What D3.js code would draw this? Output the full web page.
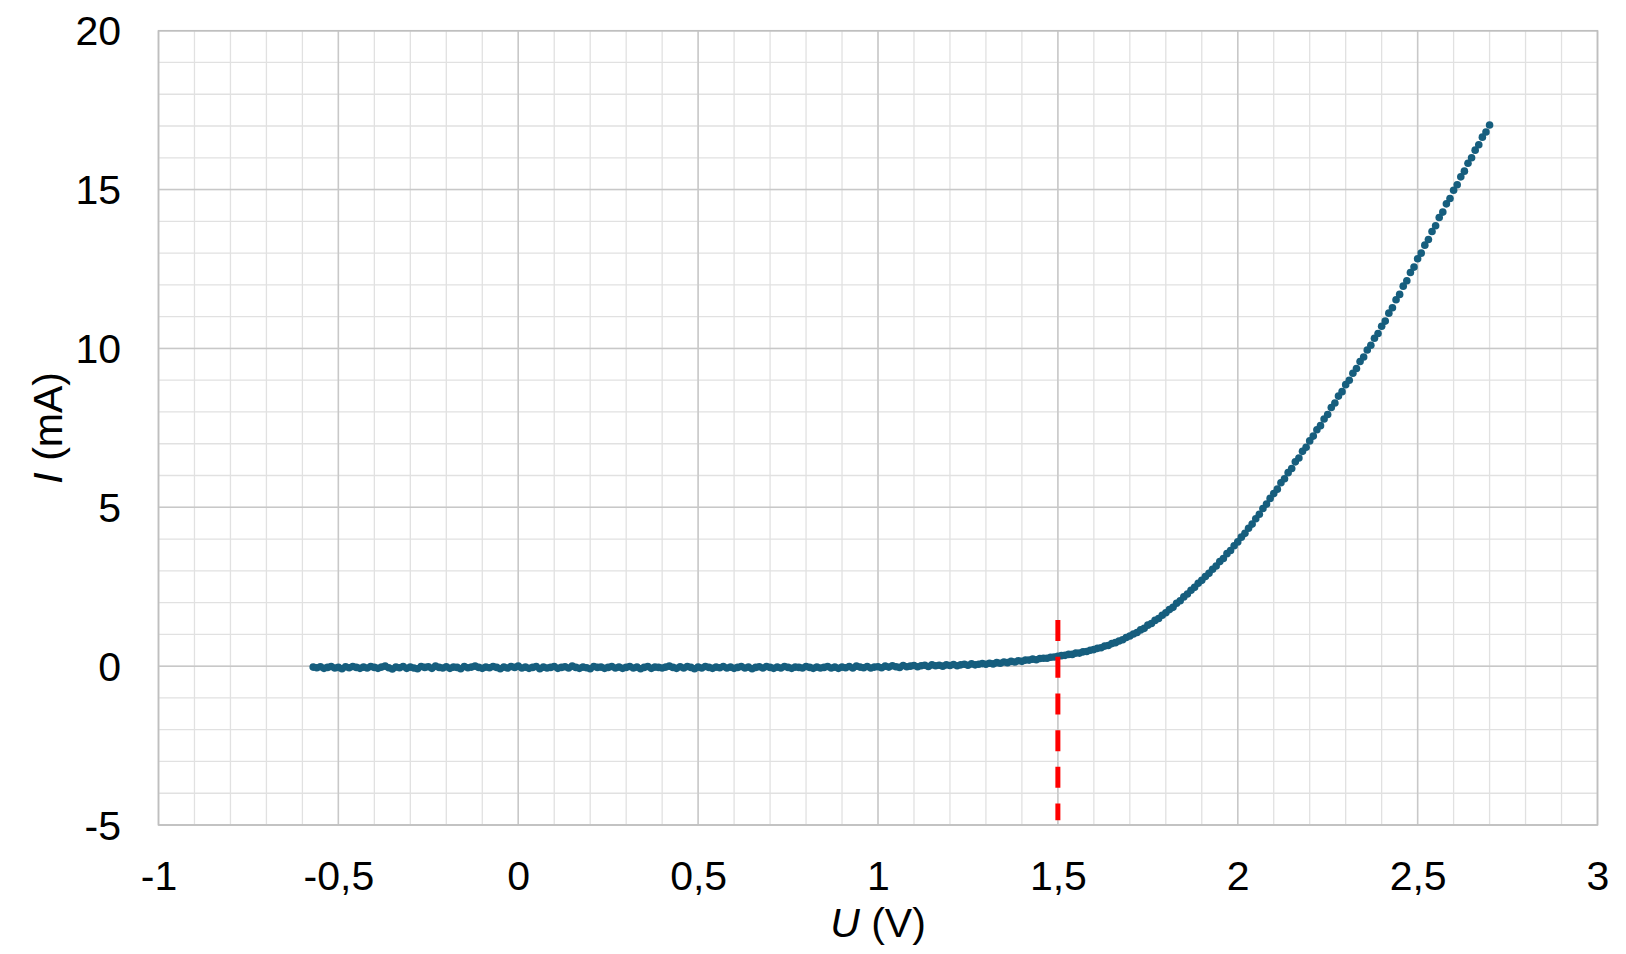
<!DOCTYPE html>
<html>
<head>
<meta charset="utf-8">
<script src="https://cdn.jsdelivr.net/npm/d3@7"></script>
<style>
  body { margin: 0; background: #ffffff; }
  svg text { font-family: "Liberation Sans", Arial, sans-serif; fill: #000000; }
</style>
</head>
<body>
<svg id="chart" width="1626" height="954"></svg>
<script>
"use strict";

// measured diode characteristic, U in volts
var voltage = [
  -0.57,-0.56,-0.55,-0.54,-0.53,-0.52,-0.51,
  -0.50,-0.49,-0.48,-0.47,-0.46,-0.45,-0.44,-0.43,-0.42,-0.41,
  -0.40,-0.39,-0.38,-0.37,-0.36,-0.35,-0.34,-0.33,-0.32,-0.31,
  -0.30,-0.29,-0.28,-0.27,-0.26,-0.25,-0.24,-0.23,-0.22,-0.21,
  -0.20,-0.19,-0.18,-0.17,-0.16,-0.15,-0.14,-0.13,-0.12,-0.11,
  -0.10,-0.09,-0.08,-0.07,-0.06,-0.05,-0.04,-0.03,-0.02,-0.01,
  0.00,0.01,0.02,0.03,0.04,0.05,0.06,0.07,0.08,0.09,
  0.10,0.11,0.12,0.13,0.14,0.15,0.16,0.17,0.18,0.19,
  0.20,0.21,0.22,0.23,0.24,0.25,0.26,0.27,0.28,0.29,
  0.30,0.31,0.32,0.33,0.34,0.35,0.36,0.37,0.38,0.39,
  0.40,0.41,0.42,0.43,0.44,0.45,0.46,0.47,0.48,0.49,
  0.50,0.51,0.52,0.53,0.54,0.55,0.56,0.57,0.58,0.59,
  0.60,0.61,0.62,0.63,0.64,0.65,0.66,0.67,0.68,0.69,
  0.70,0.71,0.72,0.73,0.74,0.75,0.76,0.77,0.78,0.79,
  0.80,0.81,0.82,0.83,0.84,0.85,0.86,0.87,0.88,0.89,
  0.90,0.91,0.92,0.93,0.94,0.95,0.96,0.97,0.98,0.99,
  1.00,1.01,1.02,1.03,1.04,1.05,1.06,1.07,1.08,1.09,
  1.10,1.11,1.12,1.13,1.14,1.15,1.16,1.17,1.18,1.19,
  1.20,1.21,1.22,1.23,1.24,1.25,1.26,1.27,1.28,1.29,
  1.30,1.31,1.32,1.33,1.34,1.35,1.36,1.37,1.38,1.39,
  1.40,1.41,1.42,1.43,1.44,1.45,1.46,1.47,1.48,1.49,
  1.50,1.51,1.52,1.53,1.54,1.55,1.56,1.57,1.58,1.59,
  1.60,1.61,1.62,1.63,1.64,1.65,1.66,1.67,1.68,1.69,
  1.70,1.71,1.72,1.73,1.74,1.75,1.76,1.77,1.78,1.79,
  1.80,1.81,1.82,1.83,1.84,1.85,1.86,1.87,1.88,1.89,
  1.90,1.91,1.92,1.93,1.94,1.95,1.96,1.97,1.98,1.99,
  2.00,2.01,2.02,2.03,2.04,2.05,2.06,2.07,2.08,2.09,
  2.10,2.11,2.12,2.13,2.14,2.15,2.16,2.17,2.18,2.19,
  2.20,2.21,2.22,2.23,2.24,2.25,2.26,2.27,2.28,2.29,
  2.30,2.31,2.32,2.33,2.34,2.35,2.36,2.37,2.38,2.39,
  2.40,2.41,2.42,2.43,2.44,2.45,2.46,2.47,2.48,2.49,
  2.50,2.51,2.52,2.53,2.54,2.55,2.56,2.57,2.58,2.59,
  2.60,2.61,2.62,2.63,2.64,2.65,2.66,2.67,2.68,2.69,
  2.70
];

// current in mA, same order as voltage
var current = [
  -0.03,-0.05,-0.02,-0.07,-0.04,-0.01,-0.06,
  -0.04,-0.08,-0.02,-0.05,-0.01,-0.04,-0.07,-0.03,-0.06,-0.01,
  -0.04,-0.07,-0.03,0.00,-0.05,-0.09,-0.03,-0.05,-0.01,-0.07,
  -0.03,-0.06,-0.08,-0.01,-0.04,-0.02,-0.07,0.00,-0.04,-0.06,
  -0.02,-0.07,-0.03,-0.04,-0.08,-0.01,-0.05,-0.03,0.00,-0.04,
  -0.07,-0.03,-0.05,-0.01,-0.04,-0.08,-0.03,-0.06,-0.01,-0.04,
  0.00,-0.06,-0.03,-0.07,-0.04,-0.01,-0.08,-0.03,-0.06,-0.04,
  -0.01,-0.07,-0.04,-0.02,-0.06,0.00,-0.04,-0.07,-0.03,-0.05,
  -0.08,-0.01,-0.04,-0.03,-0.07,-0.04,-0.01,-0.06,-0.03,-0.07,
  -0.04,-0.01,-0.06,-0.03,-0.08,-0.04,-0.01,-0.07,-0.03,-0.04,
  -0.06,-0.03,0.00,-0.04,-0.07,-0.02,-0.06,-0.01,-0.04,-0.08,
  -0.03,-0.06,-0.01,-0.04,-0.07,-0.03,-0.05,-0.01,-0.06,-0.03,
  -0.07,-0.04,-0.01,-0.06,-0.03,-0.08,-0.04,-0.02,-0.06,-0.01,
  -0.04,-0.07,-0.03,-0.06,-0.01,-0.04,-0.07,-0.03,-0.04,-0.06,
  -0.01,-0.04,-0.07,-0.03,-0.06,-0.04,-0.01,-0.06,-0.03,-0.07,
  -0.03,-0.05,-0.01,-0.06,0.00,-0.03,-0.05,-0.01,-0.06,-0.03,
  -0.02,-0.05,0.00,-0.03,0.01,-0.02,-0.04,0.02,-0.02,0.00,
  0.02,-0.02,0.01,0.03,-0.01,0.04,0.01,0.03,0.00,0.04,
  0.02,0.05,0.01,0.04,0.06,0.03,0.07,0.04,0.06,0.08,
  0.06,0.09,0.07,0.11,0.09,0.13,0.11,0.15,0.13,0.17,
  0.15,0.19,0.19,0.22,0.20,0.24,0.25,0.25,0.28,0.29,
  0.31,0.33,0.34,0.37,0.37,0.41,0.41,0.45,0.46,0.50,
  0.52,0.56,0.58,0.63,0.65,0.71,0.74,0.79,0.83,0.90,
  0.95,1.01,1.06,1.14,1.19,1.29,1.34,1.44,1.50,1.60,
  1.68,1.78,1.85,1.98,2.06,2.18,2.27,2.39,2.48,2.61,
  2.70,2.82,2.92,3.05,3.15,3.29,3.39,3.54,3.64,3.79,
  3.91,4.06,4.18,4.34,4.47,4.64,4.78,4.96,5.10,5.28,
  5.43,5.57,5.77,5.90,6.09,6.22,6.43,6.55,6.76,6.89,
  7.09,7.24,7.44,7.57,7.78,7.92,8.14,8.28,8.50,8.64,
  8.86,9.00,9.22,9.37,9.59,9.73,9.95,10.10,10.32,10.47,
  10.70,10.86,11.11,11.28,11.53,11.70,11.96,12.13,12.39,12.56,
  12.82,13.00,13.25,13.43,13.68,13.86,14.12,14.29,14.55,14.72,
  14.98,15.15,15.40,15.58,15.83,16.00,16.24,16.41,16.65,16.81,
  17.03
];

var xTicks = [-1, -0.5, 0, 0.5, 1, 1.5, 2, 2.5, 3];
var yTicks = [-5, 0, 5, 10, 15, 20];

// threshold marker: U = 1,5 V, from the curve down to the axis
var thresholdU = 1.5;
var thresholdI = [1.45, -4.85];

var margin = { left: 158.5, top: 30.7, right: 28.5, bottom: 129 },
    W = 1626, H = 954,
    w = W - margin.left - margin.right,
    h = H - margin.top - margin.bottom;

var locale = d3.formatLocale({ decimal: ",", thousands: ".", grouping: [3], currency: ["", ""], minus: "-" });
var fmt = locale.format("~g");

var x = d3.scaleLinear().domain([-1, 3]).range([0, w]);
var y = d3.scaleLinear().domain([-5, 20]).range([h, 0]);

var svg = d3.select("#chart");
var g = svg.append("g")
    .attr("transform", "translate(" + margin.left + "," + margin.top + ")");

// minor grid
g.append("g").selectAll("line").data(x.ticks(40)).enter().append("line")
    .attr("x1", d => x(d)).attr("x2", d => x(d))
    .attr("y1", 0).attr("y2", h)
    .attr("stroke", "#e1e1e1").attr("stroke-width", 1.3);
g.append("g").selectAll("line").data(y.ticks(25)).enter().append("line")
    .attr("y1", d => y(d)).attr("y2", d => y(d))
    .attr("x1", 0).attr("x2", w)
    .attr("stroke", "#e1e1e1").attr("stroke-width", 1.3);

// major grid
g.append("g").selectAll("line").data(xTicks).enter().append("line")
    .attr("x1", d => x(d)).attr("x2", d => x(d))
    .attr("y1", 0).attr("y2", h)
    .attr("stroke", "#c8c8c8").attr("stroke-width", 1.5);
g.append("g").selectAll("line").data(yTicks).enter().append("line")
    .attr("y1", d => y(d)).attr("y2", d => y(d))
    .attr("x1", 0).attr("x2", w)
    .attr("stroke", "#c8c8c8").attr("stroke-width", 1.5);

g.append("rect")
    .attr("width", w).attr("height", h)
    .attr("fill", "none").attr("stroke", "#bfbfbf").attr("stroke-width", 1.5);

// axes, labels only
var xAxis = g.append("g")
    .attr("transform", "translate(0," + h + ")")
    .call(d3.axisBottom(x).tickValues(xTicks).tickFormat(fmt).tickSize(0).tickPadding(0));
var yAxis = g.append("g")
    .call(d3.axisLeft(y).tickValues(yTicks).tickFormat(fmt).tickSize(0).tickPadding(0));
[xAxis, yAxis].forEach(a => {
  a.select(".domain").remove();
  a.selectAll("text")
    .attr("font-family", "Liberation Sans, Arial, sans-serif")
    .attr("font-size", 41)
    .attr("fill", "#000");
});
xAxis.selectAll("text").attr("y", 65).attr("dy", 0);
yAxis.selectAll("text").attr("x", -37.5).attr("dy", 14);

// data points
var pts = voltage.map((u, i) => ({ u: u, i: current[i] }));
g.append("g").selectAll("circle").data(pts).enter().append("circle")
    .attr("cx", d => x(d.u))
    .attr("cy", d => y(d.i))
    .attr("r", 3.8)
    .attr("fill", "#165e7e");

// threshold line
g.append("line")
    .attr("x1", x(thresholdU)).attr("x2", x(thresholdU))
    .attr("y1", y(thresholdI[0])).attr("y2", y(thresholdI[1]))
    .attr("stroke", "#ff0000").attr("stroke-width", 5)
    .attr("stroke-dasharray", "21,15.7");

// axis titles
var xt = svg.append("text")
    .attr("x", margin.left + w / 2).attr("y", 937)
    .attr("text-anchor", "middle").attr("font-size", 41);
xt.append("tspan").attr("font-style", "italic").text("U");
xt.append("tspan").text(" (V)");

var yt = svg.append("text")
    .attr("transform", "translate(62," + (margin.top + h / 2) + ") rotate(-90)")
    .attr("text-anchor", "middle").attr("font-size", 41);
yt.append("tspan").attr("font-style", "italic").text("I");
yt.append("tspan").text(" (mA)");
</script>
</body>
</html>
